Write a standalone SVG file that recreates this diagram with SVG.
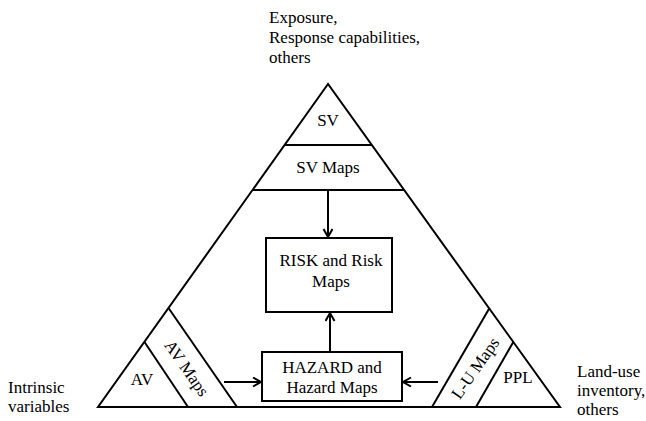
<svg xmlns="http://www.w3.org/2000/svg" width="646" height="421" viewBox="0 0 646 421">
<style>
.ln{stroke:#000;stroke-width:2;fill:none}
.bx{stroke:#000;stroke-width:2;fill:#fff}
text{font-family:"Liberation Serif","Times New Roman",serif;font-size:17px;fill:#000}
.c{text-anchor:middle}
</style>
<defs>
<marker id="ah" markerUnits="userSpaceOnUse" markerWidth="12" markerHeight="12" refX="9" refY="5" orient="auto">
<path d="M1,0.5 L9,5 L1,9.5" fill="none" stroke="#000" stroke-width="2"/>
</marker>
</defs>
<rect width="646" height="421" fill="#fff"/>
<g id="triangle">
<polygon class="ln" points="328,84 98,407 560,407"/>
</g>
<g id="sv">
<line class="ln" x1="284.6" y1="145" x2="371.8" y2="145"/>
<text class="c" x="328" y="126">SV</text>
</g>
<g id="sv-maps">
<line class="ln" x1="252.5" y1="190" x2="404.1" y2="190"/>
<text class="c" x="328" y="173">SV Maps</text>
</g>
<g id="av">
<line class="ln" x1="144.5" y1="342" x2="188" y2="407"/>
<text class="c" x="142" y="385">AV</text>
</g>
<g id="av-maps">
<line class="ln" x1="168.5" y1="308" x2="237" y2="407"/>
<text class="c" transform="translate(187,368) rotate(55)" x="0" y="6">AV Maps</text>
</g>
<g id="lu-maps">
<line class="ln" x1="489.5" y1="308" x2="432" y2="407"/>
<text class="c" transform="translate(475,368) rotate(-55)" x="0" y="6">L-U Maps</text>
</g>
<g id="ppl">
<line class="ln" x1="513.3" y1="342" x2="476" y2="407"/>
<text class="c" x="518" y="383">PPL</text>
</g>
<g id="risk">
<rect class="bx" x="266" y="238" width="126" height="74"/>
<text class="c" x="331" y="266">RISK and Risk</text>
<text class="c" x="331" y="287">Maps</text>
</g>
<g id="hazard">
<rect class="bx" x="262" y="352" width="140" height="49"/>
<text class="c" x="332" y="373">HAZARD and</text>
<text class="c" x="332" y="393">Hazard Maps</text>
</g>
<g id="labels">
<text x="269" y="23">Exposure,</text>
<text x="269" y="43">Response capabilities,</text>
<text x="269" y="63">others</text>
<text x="8" y="393">Intrinsic</text>
<text x="8" y="412">variables</text>
<text x="577" y="377">Land-use</text>
<text x="577" y="396">inventory,</text>
<text x="577" y="415">others</text>
</g>
<g id="connectors">
<line class="ln" x1="328" y1="190" x2="328" y2="237" marker-end="url(#ah)"/>
<line class="ln" x1="330" y1="352" x2="330" y2="313" marker-end="url(#ah)"/>
<line class="ln" x1="224" y1="382" x2="261" y2="382" marker-end="url(#ah)"/>
<line class="ln" x1="438" y1="382" x2="403" y2="382" marker-end="url(#ah)"/>
</g>
</svg>
